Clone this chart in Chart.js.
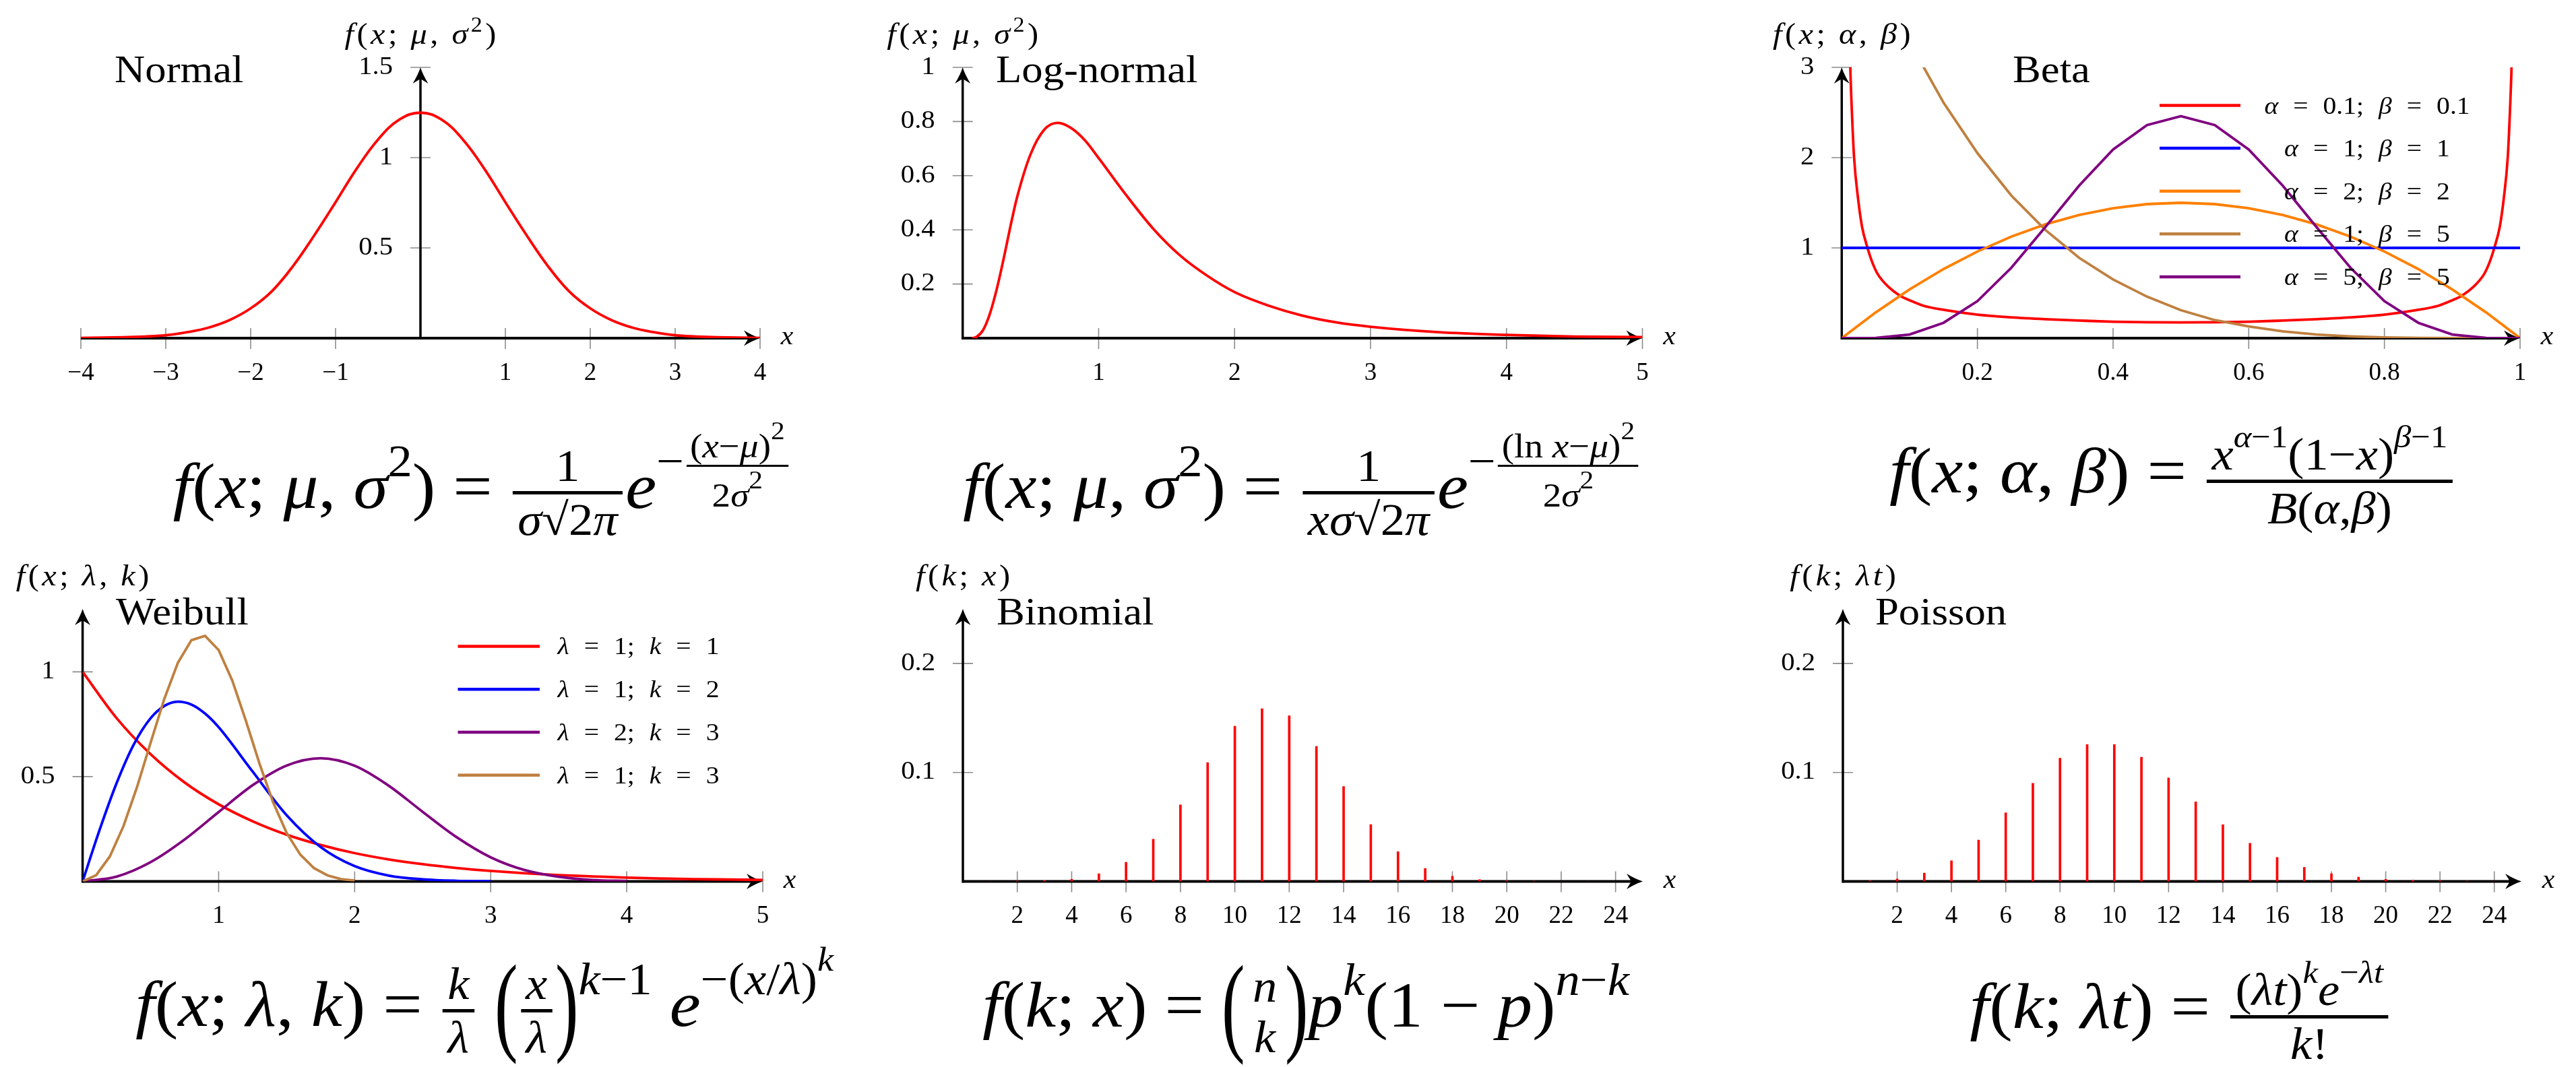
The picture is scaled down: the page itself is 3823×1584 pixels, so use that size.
<!DOCTYPE html>
<html>
<head>
<meta charset="utf-8">
<script src="https://cdn.jsdelivr.net/npm/chart.js@4.4.1/dist/chart.umd.min.js"></script>
<style>
  html, body { margin: 0; padding: 0; background: #fff; }
  #page { position: relative; width: 3823px; height: 1584px; overflow: hidden; background: #fff; }
  canvas { position: absolute; }
  .fm { position: absolute; font-family: "Liberation Serif", serif; font-size: 96px; line-height: 300px; height: 300px; white-space: nowrap; transform: translateX(-50%) scaleX(1.08); color: #000; }
  .fr, .st { display: inline-block; vertical-align: middle; text-align: center; font-size: 0.7em; line-height: 1.12; margin: 0 0.06em; }
  .fr > span, .st > span { display: block; padding: 0 0.1em; }
  .fr > span:first-child { border-bottom: 5px solid #000; }
  .sp { font-size: 0.7em; vertical-align: 0.7em; line-height: 1; }
  .sp .fr { font-size: 0.76em; }
  .sp .fr > span:first-child { border-bottom-width: 3px; }
  .sp .sp { font-size: 0.75em; }
  .ov { border-top: 4px solid #000; }
  .bp { display: inline-block; transform: scaleY(1.7); }
</style>
</head>
<body>
<div id="page">
  <canvas id="c1" width="1275" height="620" style="left:0;top:0"></canvas>
  <canvas id="c2" width="1275" height="620" style="left:1275px;top:0"></canvas>
  <canvas id="c3" width="1273" height="620" style="left:2550px;top:0"></canvas>
  <canvas id="c4" width="1275" height="600" style="left:0;top:800px"></canvas>
  <canvas id="c5" width="1275" height="600" style="left:1275px;top:800px"></canvas>
  <canvas id="c6" width="1273" height="600" style="left:2550px;top:800px"></canvas>

  <div class="fm" style="left:715px;top:572px"><i>f</i>(<i>x</i>; <i>μ</i>, <i>σ</i><span class="sp">2</span>) = <span class="fr"><span>1</span><span><i>σ</i>√<span class="ov">2<i>π</i></span></span></span><i>e</i><span class="sp">−<span class="fr"><span>(<i>x</i>−<i>μ</i>)<span class="sp">2</span></span><span>2<i>σ</i><span class="sp">2</span></span></span></span></div>

  <div class="fm" style="left:1932px;top:572px"><i>f</i>(<i>x</i>; <i>μ</i>, <i>σ</i><span class="sp">2</span>) = <span class="fr"><span>1</span><span><i>xσ</i>√<span class="ov">2<i>π</i></span></span></span><i>e</i><span class="sp">−<span class="fr"><span>(ln <i>x</i>−<i>μ</i>)<span class="sp">2</span></span><span>2<i>σ</i><span class="sp">2</span></span></span></span></div>

  <div class="fm" style="left:3224px;top:549px"><i>f</i>(<i>x</i>; <i>α</i>, <i>β</i>) = <span class="fr"><span><i>x</i><span class="sp"><i>α</i>−1</span>(1−<i>x</i>)<span class="sp"><i>β</i>−1</span></span><span><i>B</i>(<i>α</i>,<i>β</i>)</span></span></div>

  <div class="fm" style="left:719px;top:1341px"><i>f</i>(<i>x</i>; <i>λ</i>, <i>k</i>) = <span class="fr"><span><i>k</i></span><span><i>λ</i></span></span> <span class="bp">(</span><span class="fr"><span><i>x</i></span><span><i>λ</i></span></span><span class="bp">)</span><span class="sp"><i>k</i>−1</span> <i>e</i><span class="sp">−(<i>x</i>/<i>λ</i>)<span class="sp"><i>k</i></span></span></div>

  <div class="fm" style="left:1938px;top:1342px"><i>f</i>(<i>k</i>; <i>x</i>) = <span class="bp">(</span><span class="st"><span><i>n</i></span><span><i>k</i></span></span><span class="bp">)</span><i>p</i><span class="sp"><i>k</i></span>(1 − <i>p</i>)<span class="sp"><i>n</i>−<i>k</i></span></div>

  <div class="fm" style="left:3236px;top:1344px"><i>f</i>(<i>k</i>; <i>λt</i>) = <span class="fr"><span>(<i>λt</i>)<span class="sp"><i>k</i></span><i>e</i><span class="sp">−<i>λt</i></span></span><span><i>k</i>!</span></span></div>
</div>

<script>
// ---- data ----
const normalX = [-4, -3.5, -3.25, -3, -2.75, -2.5, -2.25, -2, -1.75, -1.5, -1.25, -1, -0.75, -0.5, -0.25, 0, 0.25, 0.5, 0.75, 1, 1.25, 1.5, 1.75, 2, 2.25, 2.5, 2.75, 3, 3.25, 3.5, 4];
const normalY = [0.001, 0.005, 0.009, 0.016, 0.033, 0.058, 0.1, 0.165, 0.26, 0.4, 0.57, 0.753, 0.94, 1.1, 1.21, 1.249, 1.21, 1.1, 0.94, 0.753, 0.57, 0.4, 0.26, 0.165, 0.1, 0.058, 0.033, 0.016, 0.009, 0.005, 0.001];

const lognormX = [0.07, 0.1, 0.15, 0.2, 0.25, 0.3, 0.35, 0.4, 0.5, 0.6, 0.7, 0.8, 0.9, 1, 1.2, 1.4, 1.6, 1.8, 2, 2.25, 2.5, 2.75, 3, 3.5, 4, 4.5, 5];
const lognormY = [0, 0.004, 0.03, 0.09, 0.18, 0.29, 0.41, 0.52, 0.68, 0.77, 0.795, 0.775, 0.73, 0.665, 0.53, 0.405, 0.305, 0.23, 0.17, 0.12, 0.083, 0.058, 0.042, 0.022, 0.012, 0.006, 0.004];

const betaX = [0, 0.05, 0.1, 0.15, 0.2, 0.25, 0.3, 0.35, 0.4, 0.45, 0.5, 0.55, 0.6, 0.65, 0.7, 0.75, 0.8, 0.85, 0.9, 0.95, 1];
const betaRedX = [0.008, 0.0126, 0.015, 0.0182, 0.024, 0.03, 0.038, 0.045, 0.053, 0.07, 0.086, 0.1, 0.12, 0.153, 0.2, 0.25, 0.3, 0.35, 0.4, 0.45, 0.5, 0.55, 0.6, 0.65, 0.7, 0.75, 0.8, 0.847, 0.88, 0.9, 0.914, 0.93, 0.947, 0.955, 0.962, 0.97, 0.976, 0.9818, 0.985, 0.9874, 0.992];
const betaRedY = [4.5, 3.0, 2.5, 2.0, 1.55, 1.23, 1.0, 0.84, 0.71, 0.56, 0.47, 0.42, 0.36, 0.31, 0.26, 0.23, 0.21, 0.195, 0.182, 0.176, 0.174, 0.176, 0.182, 0.195, 0.21, 0.23, 0.26, 0.31, 0.36, 0.42, 0.47, 0.56, 0.71, 0.84, 1.0, 1.23, 1.55, 2.0, 2.5, 3.0, 4.5];
const betaFlatX = [0, 1];
const betaFlatY = [1, 1];
const betaOrangeY = [0, 0.285, 0.54, 0.765, 0.96, 1.125, 1.26, 1.365, 1.44, 1.485, 1.5, 1.485, 1.44, 1.365, 1.26, 1.125, 0.96, 0.765, 0.54, 0.285, 0];
const betaBrownY = [5, 4.07, 3.28, 2.61, 2.05, 1.58, 1.2, 0.89, 0.65, 0.46, 0.31, 0.2, 0.13, 0.075, 0.04, 0.02, 0.008, 0.003, 0.001, 0, 0];
const betaPurpleY = [0, 0.003, 0.04, 0.17, 0.41, 0.78, 1.23, 1.69, 2.09, 2.36, 2.46, 2.36, 2.09, 1.69, 1.23, 0.78, 0.41, 0.17, 0.04, 0.003, 0];
const betaLabels = ['α = 0.1; β = 0.1', 'α = 1; β = 1', 'α = 2; β = 2', 'α = 1; β = 5', 'α = 5; β = 5'];

const weibullRedX = [0, 0.25, 0.5, 0.75, 1, 1.25, 1.5, 1.75, 2, 2.25, 2.5, 2.75, 3, 3.25, 3.5, 3.75, 4, 4.25, 4.5, 4.75, 5];
const weibullRedY = [1, 0.779, 0.607, 0.472, 0.368, 0.287, 0.223, 0.174, 0.135, 0.105, 0.082, 0.064, 0.05, 0.039, 0.03, 0.024, 0.018, 0.014, 0.011, 0.009, 0.007];
const weibullBlueX = [0, 0.125, 0.25, 0.375, 0.5, 0.6, 0.7, 0.8, 0.9, 1, 1.25, 1.5, 1.75, 2, 2.25, 2.5, 2.75, 3];
const weibullBlueY = [0, 0.246, 0.469, 0.652, 0.779, 0.837, 0.858, 0.844, 0.801, 0.736, 0.524, 0.316, 0.164, 0.073, 0.028, 0.01, 0.003, 0.001];
const weibullPurpleX = [0, 0.25, 0.5, 0.75, 1, 1.25, 1.5, 1.75, 2, 2.25, 2.5, 2.75, 3, 3.25, 3.5, 3.75, 4];
const weibullPurpleY = [0, 0.023, 0.092, 0.2, 0.331, 0.459, 0.553, 0.588, 0.552, 0.457, 0.332, 0.211, 0.115, 0.054, 0.022, 0.007, 0.002];
const weibullBrownX = [0, 0.1, 0.2, 0.3, 0.4, 0.5, 0.6, 0.7, 0.8, 0.9, 1, 1.1, 1.2, 1.3, 1.4, 1.5, 1.6, 1.7, 1.8, 1.9, 2];
const weibullBrownY = [0, 0.03, 0.119, 0.263, 0.45, 0.662, 0.87, 1.043, 1.151, 1.172, 1.104, 0.959, 0.767, 0.563, 0.378, 0.231, 0.128, 0.064, 0.029, 0.011, 0.004];
const weibullLabels = ['λ = 1; k = 1', 'λ = 1; k = 2', 'λ = 2; k = 3', 'λ = 1; k = 3'];

const countK = [0, 1, 2, 3, 4, 5, 6, 7, 8, 9, 10, 11, 12, 13, 14, 15, 16, 17, 18, 19, 20, 21, 22, 23, 24];
const binomP = [0, 0, 0.0004, 0.0008, 0.002, 0.007, 0.0175, 0.0387, 0.0703, 0.109, 0.1424, 0.1585, 0.152, 0.1238, 0.0871, 0.0522, 0.0273, 0.0118, 0.0048, 0.0017, 0.0005, 0.0002, 0, 0, 0];
const poissonP = [0.0001, 0.0005, 0.0023, 0.0076, 0.019, 0.038, 0.063, 0.09, 0.113, 0.1255, 0.1255, 0.114, 0.095, 0.073, 0.052, 0.035, 0.022, 0.013, 0.007, 0.004, 0.002, 0.001, 0.0005, 0.0002, 0.0001];

// tick labels
const normalXTicks = [-4, -3, -2, -1, 1, 2, 3, 4];
const normalYTicks = [0.5, 1, 1.5];
const lognormXTicks = [1, 2, 3, 4, 5];
const lognormYTicks = [0.2, 0.4, 0.6, 0.8, 1];
const betaXTicks = [0.2, 0.4, 0.6, 0.8, 1];
const betaYTicks = [1, 2, 3];
const weibullXTicks = [1, 2, 3, 4, 5];
const weibullYTicks = [0.5, 1];
const countXTicks = [2, 4, 6, 8, 10, 12, 14, 16, 18, 20, 22, 24];
const countYTicks = [0.1, 0.2];

// ---- drawing helpers ----
const FONT = '"Liberation Serif", "DejaVu Serif", serif';
const TEXT_SX = 1.1;
const RED = '#ff0000', BLUE = '#0000ff', ORANGE = '#ff8000', BROWN = '#bf8040', PURPLE = '#800080';

function fmtTick(v) {
  return v < 0 ? '\u2212' + (-v) : String(v);
}

function drawText(ctx, s, x, y, font, align, baseline) {
  ctx.save();
  ctx.translate(x, y);
  ctx.scale(TEXT_SX, 1);
  ctx.font = font;
  ctx.fillStyle = '#000';
  ctx.textAlign = align || 'left';
  ctx.textBaseline = baseline || 'alphabetic';
  ctx.fillText(s, 0, 0);
  ctx.restore();
}

// letters in italic, the rest upright, '^' raises the next char
function drawMath(ctx, str, x, y, size, align, gap, spaceW) {
  const runs = [];
  for (let i = 0; i < str.length; i++) {
    let sup = false;
    if (str[i] === '^') { sup = true; i++; }
    runs.push({ ch: str[i], sup: sup, it: /[A-Za-z\u03b1-\u03c9]/.test(str[i]) });
  }
  const fontOf = r => (r.it ? 'italic ' : '') + Math.round(r.sup ? size * 0.7 : size) + 'px ' + FONT;
  let total = 0;
  runs.forEach(r => {
    ctx.font = fontOf(r);
    r.w = (r.ch === ' ' ? spaceW : ctx.measureText(r.ch).width) * TEXT_SX;
    total += r.w + gap;
  });
  total -= gap;
  let cx = align === 'center' ? x - total / 2 : x;
  runs.forEach(r => {
    if (r.ch !== ' ') {
      ctx.save();
      ctx.translate(cx, r.sup ? y - size * 0.42 : y);
      ctx.scale(TEXT_SX, 1);
      ctx.font = fontOf(r);
      ctx.fillStyle = '#000';
      ctx.textAlign = 'left';
      ctx.textBaseline = 'alphabetic';
      ctx.fillText(r.ch, 0, 0);
      ctx.restore();
    }
    cx += r.w + gap;
  });
}

function arrowHead(ctx, x, y, up) {
  const L = 24, W = 11.5, N = 7;
  ctx.save();
  ctx.translate(x, y);
  if (up) ctx.rotate(-Math.PI / 2);
  ctx.beginPath();
  ctx.moveTo(0, 0);
  ctx.quadraticCurveTo(-L * 0.45, -W * 0.3, -L, -W);
  ctx.lineTo(-L + N, 0);
  ctx.lineTo(-L, W);
  ctx.quadraticCurveTo(-L * 0.45, W * 0.3, 0, 0);
  ctx.closePath();
  ctx.fillStyle = '#000';
  ctx.fill();
  ctx.restore();
}

// axes with arrows, tick marks, y labels, titles and legends
const decor = {
  id: 'decor',
  beforeDatasetsDraw(chart, args, o) {
    const ctx = chart.ctx, xs = chart.scales.x, ys = chart.scales.y;
    const ax = xs.getPixelForValue(o.yAxisAt);
    const ay = ys.getPixelForValue(0);
    const xl = xs.getPixelForValue(xs.min), xr = xs.getPixelForValue(xs.max);
    const yt = ys.getPixelForValue(ys.max);
    ctx.save();
    ctx.strokeStyle = '#8c8c8c';
    ctx.lineWidth = 1.6;
    ctx.beginPath();
    xs.ticks.forEach(t => {
      const p = xs.getPixelForValue(t.value);
      ctx.moveTo(p, ay - 15); ctx.lineTo(p, ay + 16);
    });
    ys.ticks.forEach(t => {
      const p = ys.getPixelForValue(t.value);
      ctx.moveTo(ax - 15, p); ctx.lineTo(ax + 15, p);
    });
    ctx.stroke();
    ctx.strokeStyle = '#000';
    ctx.lineWidth = 4;
    ctx.beginPath(); ctx.moveTo(xl, ay); ctx.lineTo(xr - 12, ay); ctx.stroke();
    ctx.lineWidth = 3.5;
    ctx.beginPath(); ctx.moveTo(ax, ay + 2); ctx.lineTo(ax, yt + 12); ctx.stroke();
    arrowHead(ctx, xr, ay, false);
    arrowHead(ctx, ax, yt, true);
    ys.ticks.forEach(t => {
      drawText(ctx, fmtTick(t.value), ax - 41, ys.getPixelForValue(t.value), '37px ' + FONT, 'right', 'middle');
    });
    ctx.restore();
  },
  afterDraw(chart, args, o) {
    const ctx = chart.ctx, xs = chart.scales.x, ys = chart.scales.y, area = chart.chartArea;
    const ax = xs.getPixelForValue(o.yAxisAt);
    const ay = ys.getPixelForValue(0);
    const xr = xs.getPixelForValue(xs.max);
    ctx.save();
    drawText(ctx, o.title, o.titleX, o.titleY, '57px ' + FONT, 'left');
    drawMath(ctx, o.ylabel, ax, area.top - 35, 44, 'center', 4.5, 10);
    drawMath(ctx, 'x', xr + 40, ay + 9, 38, 'center', 0, 0);
    if (o.legend) {
      const L = o.legend;
      chart.data.datasets.forEach((ds, i) => {
        const y = area.top + L.y0 + L.dy * i;
        ctx.strokeStyle = ds.borderColor;
        ctx.lineWidth = 4.5;
        ctx.beginPath();
        ctx.moveTo(area.left + L.x0, y);
        ctx.lineTo(area.left + L.x1, y);
        ctx.stroke();
        drawMath(ctx, ds.label, area.left + L.tx, y + 12, 36, 'center', 0, 20);
      });
    }
    ctx.restore();
  }
};

function curve(label, xs, ys, color, mode, i, n) {
  return {
    label: label,
    data: xs.map((x, k) => ({ x: x, y: ys[k] })),
    borderColor: color,
    backgroundColor: color,
    borderWidth: 3.8,
    fill: false,
    pointRadius: 0,
    tension: mode === 'smooth' ? 0.4 : 0,
    cubicInterpolationMode: mode === 'monotone' ? 'monotone' : 'default',
    order: n - i
  };
}

function spikes(ks, ps) {
  return {
    label: 'p',
    data: ks.map((k, i) => ({ x: k, y: ps[i] })),
    backgroundColor: RED,
    borderWidth: 0,
    barThickness: 3
  };
}

function panel(id, cfg) {
  return new Chart(document.getElementById(id), {
    type: cfg.type || 'line',
    data: { datasets: cfg.datasets },
    options: {
      responsive: false,
      animation: false,
      devicePixelRatio: 1,
      layout: { padding: cfg.pad },
      plugins: { legend: { display: false }, tooltip: { enabled: false }, decor: cfg.decor },
      scales: {
        x: {
          type: 'linear', min: cfg.xmin, max: cfg.xmax, offset: false,
          position: { y: 0 },
          grid: { display: false, drawTicks: false },
          border: { display: false },
          afterBuildTicks: s => { s.ticks = cfg.xticks.map(v => ({ value: v })); },
          ticks: { padding: 30, color: '#000', font: { family: FONT, size: 37 }, callback: fmtTick, autoSkip: false, maxRotation: 0 }
        },
        y: {
          type: 'linear', min: 0, max: cfg.ymax,
          position: { x: cfg.decor.yAxisAt },
          grid: { display: false, drawTicks: false },
          border: { display: false },
          afterBuildTicks: s => { s.ticks = cfg.yticks.map(v => ({ value: v })); },
          ticks: { display: false }
        }
      }
    },
    plugins: [decor]
  });
}

const topPad = { top: 100, bottom: 118 };
const botPad = { top: 104, bottom: 91.5 };

// Normal
panel('c1', {
  xmin: -4, xmax: 4, ymax: 1.5, xticks: normalXTicks, yticks: normalYTicks,
  pad: Object.assign({ left: 120, right: 147 }, topPad),
  datasets: [curve('normal', normalX, normalY, RED, 'smooth', 0, 1)],
  decor: { yAxisAt: 0, title: 'Normal', titleX: 170, titleY: 122, ylabel: 'f(x; μ, σ^2)' }
});

// Log-normal
panel('c2', {
  xmin: 0, xmax: 5, ymax: 1, xticks: lognormXTicks, yticks: lognormYTicks,
  pad: Object.assign({ left: 153.7, right: 112.5 }, topPad),
  datasets: [curve('log-normal', lognormX, lognormY, RED, 'monotone', 0, 1)],
  decor: { yAxisAt: 0, title: 'Log-normal', titleX: 203, titleY: 122, ylabel: 'f(x; μ, σ^2)' }
});

// Beta
panel('c3', {
  xmin: 0, xmax: 1, ymax: 3, xticks: betaXTicks, yticks: betaYTicks,
  pad: Object.assign({ left: 183.3, right: 83 }, topPad),
  datasets: [
    curve(betaLabels[0], betaRedX, betaRedY, RED, 'monotone', 0, 5),
    curve(betaLabels[1], betaFlatX, betaFlatY, BLUE, 'linear', 1, 5),
    curve(betaLabels[2], betaX, betaOrangeY, ORANGE, 'linear', 2, 5),
    curve(betaLabels[3], betaX, betaBrownY, BROWN, 'linear', 3, 5),
    curve(betaLabels[4], betaX, betaPurpleY, PURPLE, 'linear', 4, 5)
  ],
  decor: {
    yAxisAt: 0, title: 'Beta', titleX: 437, titleY: 122, ylabel: 'f(x; α, β)',
    legend: { x0: 471.7, x1: 591.7, tx: 779.7, y0: 56.5, dy: 63.6 }
  }
});

// Weibull
panel('c4', {
  xmin: 0, xmax: 5, ymax: 1.3, xticks: weibullXTicks, yticks: weibullYTicks,
  pad: Object.assign({ left: 122.6, right: 143 }, botPad),
  datasets: [
    curve(weibullLabels[0], weibullRedX, weibullRedY, RED, 'monotone', 0, 4),
    curve(weibullLabels[1], weibullBlueX, weibullBlueY, BLUE, 'monotone', 1, 4),
    curve(weibullLabels[2], weibullPurpleX, weibullPurpleY, PURPLE, 'monotone', 2, 4),
    curve(weibullLabels[3], weibullBrownX, weibullBrownY, BROWN, 'linear', 3, 4)
  ],
  decor: {
    yAxisAt: 0, title: 'Weibull', titleX: 172, titleY: 127, ylabel: 'f(x; λ, k)',
    legend: { x0: 556.9, x1: 678.4, tx: 824.9, y0: 55.4, dy: 63.8 }
  }
});

// Binomial
panel('c5', {
  type: 'bar',
  xmin: 0, xmax: 25, ymax: 0.25, xticks: countXTicks, yticks: countYTicks,
  pad: Object.assign({ left: 154, right: 112 }, botPad),
  datasets: [spikes(countK, binomP)],
  decor: { yAxisAt: 0, title: 'Binomial', titleX: 204, titleY: 127, ylabel: 'f(k; x)' }
});

// Poisson
panel('c6', {
  type: 'bar',
  xmin: 0, xmax: 25, ymax: 0.25, xticks: countXTicks, yticks: countYTicks,
  pad: Object.assign({ left: 185, right: 81 }, botPad),
  datasets: [spikes(countK, poissonP)],
  decor: { yAxisAt: 0, title: 'Poisson', titleX: 233, titleY: 127, ylabel: 'f(k; λt)' }
});
</script>
</body>
</html>
